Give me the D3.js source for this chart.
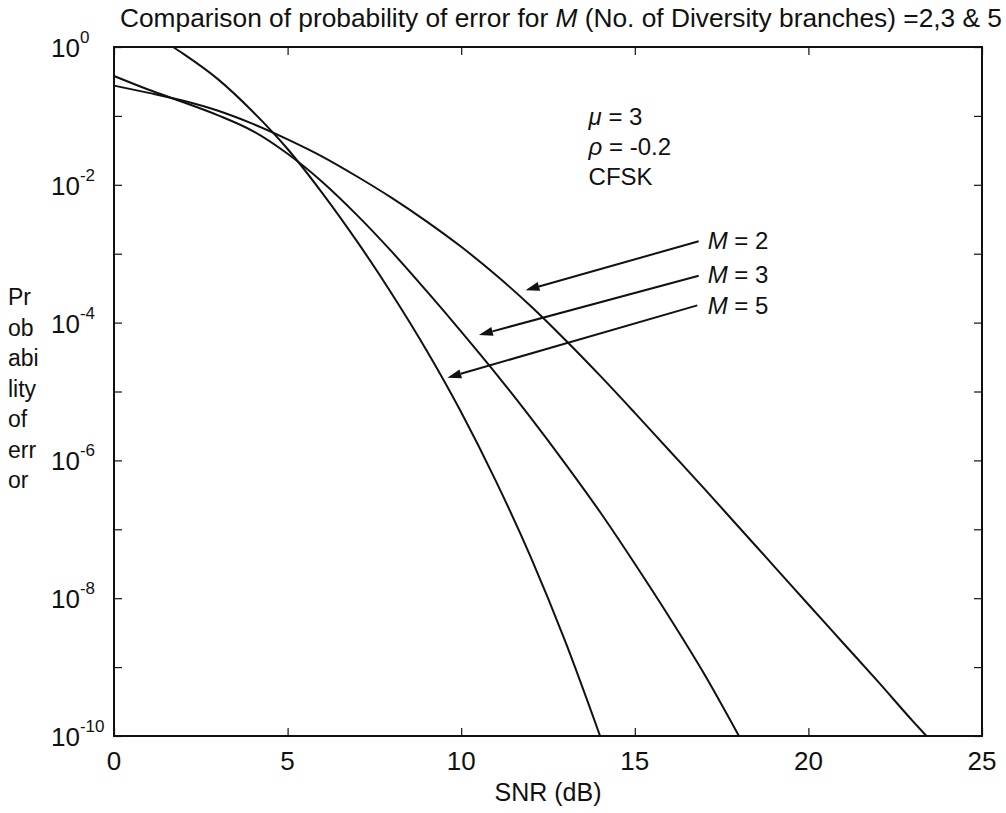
<!DOCTYPE html>
<html>
<head>
<meta charset="utf-8">
<script src="https://cdn.jsdelivr.net/npm/d3@7"></script>
<style>
  body { margin: 0; background: #fff; }
  svg text { font-family: "Liberation Sans", Arial, Helvetica, sans-serif; fill: #111; }
</style>
</head>
<body>
<svg id="chart" width="1006" height="813"></svg>
<script>
// (SNR in dB, probability of error)
const snrM2 = [0, 1, 2, 3, 4, 5, 6, 7, 8, 9, 10, 11, 12, 13, 14, 15, 16, 17, 18, 19, 20, 21, 22, 23, 23.4];
const peM2 = [2.75e-1, 2.16e-1, 1.66e-1, 1.19e-1, 7.67e-2, 4.57e-2, 2.57e-2, 1.32e-2, 6.46e-3, 2.95e-3, 1.26e-3, 4.9e-4, 1.74e-4, 5.6e-5, 1.7e-5, 4.9e-6, 1.38e-6, 3.9e-7, 1.07e-7, 2.95e-8, 8.1e-9, 2.24e-9, 6.2e-10, 1.66e-10, 1e-10];

const snrM3 = [0, 1, 2, 3, 4, 5, 6, 7, 8, 9, 10, 11, 12, 13, 14, 15, 16, 17, 18];
const peM3 = [3.8e-1, 2.4e-1, 1.58e-1, 1.02e-1, 6.03e-2, 2.82e-2, 1.1e-2, 3.63e-3, 1.07e-3, 2.88e-4, 7.41e-5, 1.82e-5, 4.17e-6, 8.91e-7, 1.78e-7, 3.16e-8, 5.25e-9, 7.94e-10, 1e-10];

const snrM5 = [1.7, 2, 3, 4, 5, 6, 7, 8, 9, 10, 11, 12, 13, 14];
const peM5 = [1, 7.94e-1, 3.39e-1, 1.15e-1, 3.31e-2, 7.59e-3, 1.51e-3, 2.63e-4, 3.98e-5, 5.01e-6, 5.01e-7, 3.98e-8, 2.34e-9, 1e-10];

const xTicks = [0, 5, 10, 15, 20, 25];
const yExponents = [0, -1, -2, -3, -4, -5, -6, -7, -8, -9, -10];
const yLabelExponents = [0, -2, -4, -6, -8, -10];

const seriesNames = ["M = 2", "M = 3", "M = 5"];
const paramLines = ["μ = 3", "ρ = -0.2", "CFSK"];
const yLabelLines = ["Pr", "ob", "abi", "lity", "of", "err", "or"];

const series = [
  { name: seriesNames[0], points: snrM2.map((s, i) => ({ snr: s, pe: peM2[i] })) },
  { name: seriesNames[1], points: snrM3.map((s, i) => ({ snr: s, pe: peM3[i] })) },
  { name: seriesNames[2], points: snrM5.map((s, i) => ({ snr: s, pe: peM5[i] })) },
];

const svg = d3.select("#chart");
const margin = { left: 114, right: 24, top: 47, bottom: 77 };
const width = 1006, height = 813;
const x0 = margin.left, x1 = width - margin.right;
const y0 = margin.top, y1 = height - margin.bottom;

const x = d3.scaleLinear().domain([0, 25]).range([x0, x1]);
const y = d3.scaleLog().domain([1, 1e-10]).range([y0, y1]);

const ink = "#111";
const tick = 8;

// inward ticks on all four sides
const yTickVals = yExponents.map((e) => Math.pow(10, e));
const axes = [
  svg.append("g").attr("transform", `translate(0,${y1})`).call(d3.axisBottom(x).tickValues(xTicks).tickSizeInner(-tick).tickSizeOuter(0).tickFormat("")),
  svg.append("g").attr("transform", `translate(0,${y0})`).call(d3.axisTop(x).tickValues(xTicks).tickSizeInner(-tick).tickSizeOuter(0).tickFormat("")),
  svg.append("g").attr("transform", `translate(${x0},0)`).call(d3.axisLeft(y).tickValues(yTickVals).tickSizeInner(-tick).tickSizeOuter(0).tickFormat("")),
  svg.append("g").attr("transform", `translate(${x1},0)`).call(d3.axisRight(y).tickValues(yTickVals).tickSizeInner(-tick).tickSizeOuter(0).tickFormat("")),
];
axes.forEach((g) => {
  g.select(".domain").remove();
  g.selectAll(".tick line").attr("stroke", ink).attr("stroke-width", 1.2);
});

svg.append("rect")
  .attr("x", x0).attr("y", y0)
  .attr("width", x1 - x0).attr("height", y1 - y0)
  .attr("fill", "none").attr("stroke", ink).attr("stroke-width", 2);

// curves
const line = d3.line().x((d) => x(d.snr)).y((d) => y(d.pe)).curve(d3.curveMonotoneX);
svg.append("g")
  .selectAll("path")
  .data(series)
  .enter()
  .append("path")
  .attr("d", (d) => line(d.points))
  .attr("fill", "none")
  .attr("stroke", ink)
  .attr("stroke-width", 2)
  .attr("stroke-linejoin", "round");

// x tick labels
svg.append("g")
  .selectAll("text")
  .data(xTicks)
  .enter()
  .append("text")
  .attr("x", (d) => x(d))
  .attr("y", y1 + 34)
  .attr("text-anchor", "middle")
  .attr("font-size", 26)
  .text((d) => d);

// y tick labels, 10 with superscript exponent
const yl = svg.append("g")
  .selectAll("text")
  .data(yLabelExponents)
  .enter()
  .append("text")
  .attr("x", 51)
  .attr("y", (d) => y(Math.pow(10, d)) + 10)
  .attr("font-size", 26);
yl.append("tspan").text("10");
yl.append("tspan").attr("dy", -14).attr("font-size", 17).text((d) => d);

// axis titles
svg.append("text")
  .attr("x", (x0 + x1) / 2)
  .attr("y", 801)
  .attr("text-anchor", "middle")
  .attr("font-size", 25)
  .text("SNR (dB)");

svg.append("g")
  .selectAll("text")
  .data(yLabelLines)
  .enter()
  .append("text")
  .attr("x", 8)
  .attr("y", (d, i) => 305 + i * 30.5)
  .attr("font-size", 23)
  .text((d) => d);

const title = svg.append("text")
  .attr("x", 120)
  .attr("y", 27)
  .attr("font-size", 26)
  .attr("textLength", 882)
  .attr("lengthAdjust", "spacingAndGlyphs");
title.append("tspan").text("Comparison of probability of error for ");
title.append("tspan").attr("font-style", "italic").text("M");
title.append("tspan").text(" (No. of Diversity branches) =2,3 & 5");

// parameter block
const params = svg.append("g")
  .selectAll("text")
  .data(paramLines)
  .enter()
  .append("text")
  .attr("x", x(13.67))
  .attr("y", (d, i) => y(Math.pow(10, -1.13 - i * 0.435)))
  .attr("font-size", 24);
params.each(function (d) {
  const t = d3.select(this);
  if (d === "CFSK") { t.text(d); return; }
  t.append("tspan").attr("font-style", "italic").text(d.slice(0, 1));
  t.append("tspan").text(d.slice(1));
});

// series labels with arrows pointing to each curve
const arrows = [
  { from: [16.84, -2.82], to: [11.85, -3.53], text: [17.1, -2.93] },
  { from: [16.84, -3.32], to: [10.51, -4.18], text: [17.1, -3.42] },
  { from: [16.8, -3.75], to: [9.6, -4.8], text: [17.1, -3.87] },
];

const ann = svg.append("g");
arrows.forEach((a, i) => {
  const fx = x(a.from[0]), fy = y(Math.pow(10, a.from[1]));
  const tx = x(a.to[0]), ty = y(Math.pow(10, a.to[1]));
  const ang = Math.atan2(ty - fy, tx - fx);
  const len = 14, half = 4.5;
  const bx = tx - len * Math.cos(ang), by = ty - len * Math.sin(ang);
  ann.append("line")
    .attr("x1", fx).attr("y1", fy).attr("x2", bx).attr("y2", by)
    .attr("stroke", ink).attr("stroke-width", 2);
  ann.append("path")
    .attr("d", `M${tx},${ty}L${bx + half * Math.sin(ang)},${by - half * Math.cos(ang)}L${bx - half * Math.sin(ang)},${by + half * Math.cos(ang)}Z`)
    .attr("fill", ink);
  const t = ann.append("text")
    .attr("x", x(a.text[0]))
    .attr("y", y(Math.pow(10, a.text[1])))
    .attr("font-size", 24);
  t.append("tspan").attr("font-style", "italic").text("M");
  t.append("tspan").text(seriesNames[i].slice(1));
});
</script>
</body>
</html>
